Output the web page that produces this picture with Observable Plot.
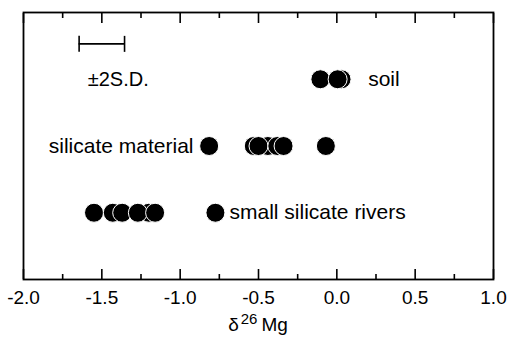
<!DOCTYPE html>
<html>
<head>
<meta charset="utf-8">
<script src="https://cdn.jsdelivr.net/npm/d3@7"></script>
<script src="https://cdn.jsdelivr.net/npm/@observablehq/plot@0.6"></script>
<style>
  html, body { margin: 0; padding: 0; background: white; }
</style>
</head>
<body>
<div id="chart"></div>
<script>
// ---- data ----
const rowNames = ["small silicate rivers", "silicate material", "soil"];
const rowLevels = [1, 2, 3];
const riversValues = [-1.55, -1.43, -1.37, -1.20, -1.27, -1.16, -0.775];
const silicateValues = [-0.815, -0.53, -0.44, -0.50, -0.38, -0.34, -0.07];
const soilValues = [-0.105, 0.03, 0.005];
const majorTicks = [-2.0, -1.5, -1.0, -0.5, 0.0, 0.5, 1.0];
const minorTicks = [-1.75, -1.25, -0.75, -0.25, 0.25, 0.75];
const errorBarX = [-1.645, -1.355];
const errorBarLevel = 3.53;
const errorLabel = "±2S.D.";
const errorLabelX = -1.59;
const rowLabelX = [-0.685, -0.915, 0.2];
const rowLabelAnchor = ["start", "end", "start"];

const points = [
  ...riversValues.map(v => ({x: v, y: rowLevels[0]})),
  ...silicateValues.map(v => ({x: v, y: rowLevels[1]})),
  ...soilValues.map(v => ({x: v, y: rowLevels[2]}))
];
const labels = rowNames.map((t, i) => ({text: t, x: rowLabelX[i], y: rowLevels[i], anchor: rowLabelAnchor[i]}));

const capSymbol = {
  draw(context, size) {
    const h = Math.sqrt(size / Math.PI);
    context.moveTo(0, -h);
    context.lineTo(0, h);
  }
};

const font = "'Liberation Sans', Arial, Helvetica, sans-serif";

const chart = Plot.plot({
  width: 510,
  height: 338,
  marginLeft: 23,
  marginRight: 17,
  marginTop: 12,
  marginBottom: 59,
  style: {fontFamily: font, fontSize: "19px", color: "black", background: "white", overflow: "visible"},
  x: {domain: [-2, 1]},
  y: {domain: [0, 4], axis: null},
  marks: [
    Plot.axisX(majorTicks, {anchor: "bottom", tickSize: -10, fill: "none", strokeWidth: 1.6, label: null}),
    Plot.axisX(minorTicks, {anchor: "bottom", tickSize: -5, fill: "none", strokeWidth: 1.6, label: null}),
    Plot.axisX(majorTicks, {anchor: "top", tickSize: -10, fill: "none", strokeWidth: 1.6, label: null}),
    Plot.axisX(minorTicks, {anchor: "top", tickSize: -5, fill: "none", strokeWidth: 1.6, label: null}),
    Plot.axisX(majorTicks, {anchor: "bottom", tickSize: 0, tickPadding: 11, stroke: "none", fontSize: 19, tickFormat: d => d.toFixed(1), label: null}),
    Plot.frame({stroke: "black", strokeWidth: 1.8}),
    Plot.ruleY([errorBarLevel], {x1: errorBarX[0], x2: errorBarX[1], stroke: "black", strokeWidth: 1.6}),
    Plot.dot(errorBarX, {x: d => d, y: () => errorBarLevel, symbol: capSymbol, r: 8, stroke: "black", strokeWidth: 1.6, fill: "none"}),
    Plot.text([errorLabel], {x: () => errorLabelX, y: () => rowLevels[2], text: d => d, textAnchor: "start", fontSize: 20, fill: "black"}),
    Plot.dot(points, {x: "x", y: "y", r: 9.5, fill: "black", stroke: "white", strokeWidth: 1}),
    Plot.text(labels.filter(d => d.anchor === "start"), {x: "x", y: "y", text: "text", textAnchor: "start", fontSize: 21, fill: "black"}),
    Plot.text(labels.filter(d => d.anchor === "end"), {x: "x", y: "y", text: "text", textAnchor: "end", fontSize: 21, fill: "black"})
  ]
});

// axis label with superscript
const xs = chart.scale("x").range;
const svg = d3.select(chart);
const lab = svg.append("text")
  .attr("x", (xs[0] + xs[1]) / 2)
  .attr("y", 338 - 7)
  .attr("text-anchor", "middle")
  .attr("font-family", font)
  .attr("font-size", 19)
  .attr("fill", "black");
lab.append("tspan").text("δ");
lab.append("tspan").attr("font-size", 15).attr("dy", -7).attr("dx", 2).text("26");
lab.append("tspan").attr("dy", 7).attr("dx", 4).text("Mg");

document.getElementById("chart").appendChild(chart);
</script>
</body>
</html>
